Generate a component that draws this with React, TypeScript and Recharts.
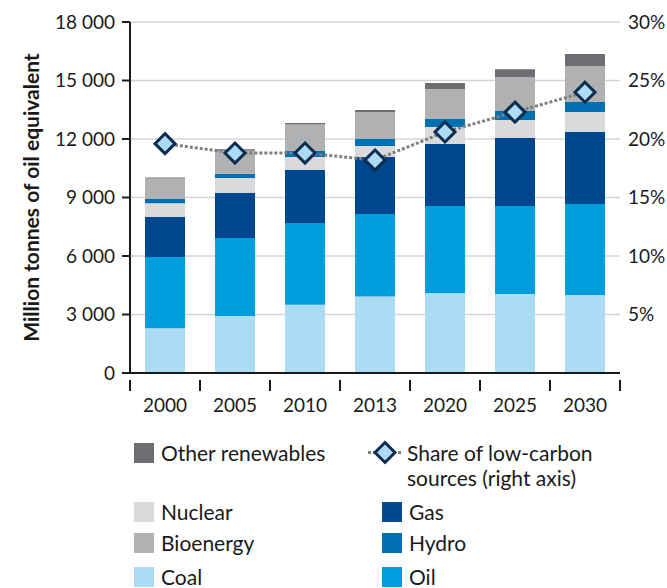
import React from 'react';
import { ComposedChart, Bar, Line, XAxis, YAxis, CartesianGrid } from 'recharts';

const years = ['2000', '2005', '2010', '2013', '2020', '2025', '2030'];
const coal = [2300, 2920, 3500, 3920, 4100, 4050, 4000];
const oil = [3650, 4000, 4190, 4240, 4460, 4510, 4670];
const gas = [2050, 2310, 2720, 2920, 3180, 3490, 3690];
const nuclear = [700, 770, 670, 560, 870, 920, 1030];
const hydro = [220, 220, 310, 360, 410, 460, 510];
const bioenergy = [1060, 1180, 1350, 1390, 1540, 1740, 1850];
const otherRenewables = [40, 70, 85, 100, 310, 410, 610];
const lowCarbonShare = [19.6, 18.8, 18.8, 18.2, 20.6, 22.3, 24.0];

const leftTicks = [0, 3000, 6000, 9000, 12000, 15000, 18000];
const rightTicks = [5, 10, 15, 20, 25, 30];

const series = [
  { key: 'coal', name: 'Coal', color: '#abdcf3' },
  { key: 'oil', name: 'Oil', color: '#009ddc' },
  { key: 'gas', name: 'Gas', color: '#00478d' },
  { key: 'nuclear', name: 'Nuclear', color: '#d9dadc' },
  { key: 'hydro', name: 'Hydro', color: '#0070b3' },
  { key: 'bioenergy', name: 'Bioenergy', color: '#b0b1b3' },
  { key: 'other', name: 'Other renewables', color: '#6d6e71' },
];

const data = years.map((year, i) => ({
  year,
  coal: coal[i],
  oil: oil[i],
  gas: gas[i],
  nuclear: nuclear[i],
  hydro: hydro[i],
  bioenergy: bioenergy[i],
  other: otherRenewables[i],
  share: lowCarbonShare[i],
}));

const FONT = 'Lato, "Open Sans", sans-serif';
const DIAMOND_FILL = '#abdcf3';
const DIAMOND_STROKE = '#0d2c50';

const fmtThousands = (v: number) => String(v).replace(/\B(?=(\d{3})+(?!\d))/g, ' ');

const Diamond = ({ cx, cy }: any) => {
  if (cx == null || cy == null) return null;
  const r = 10;
  return (
    <polygon
      points={`${cx},${cy - r} ${cx + r},${cy} ${cx},${cy + r} ${cx - r},${cy}`}
      fill={DIAMOND_FILL}
      stroke={DIAMOND_STROKE}
      strokeWidth={3}
    />
  );
};

const YearTick = ({ x, y, payload, index, visibleTicksCount }: any) => {
  const half = payload?.offset || 35;
  const last = index === visibleTicksCount - 1;
  return (
    <g>
      <line x1={x - half} x2={x - half} y1={y - 1} y2={y + 10} stroke="#1a1a1a" strokeWidth={2} />
      {last && <line x1={x + half} x2={x + half} y1={y - 1} y2={y + 10} stroke="#1a1a1a" strokeWidth={2} />}
      <text x={x} y={y + 31} textAnchor="middle" fontSize={19} fontFamily={FONT} fill="#1a1a1a">
        {payload.value}
      </text>
    </g>
  );
};

const YLabel = ({ viewBox }: any) => {
  const cy = viewBox.y + viewBox.height / 2;
  return (
    <text
      x={30}
      y={cy}
      transform={`rotate(-90, 30, ${cy})`}
      textAnchor="middle"
      dominantBaseline="central"
      fontSize={21}
      fontWeight="bold"
      fontFamily={FONT}
      fill="#1a1a1a"
    >
      Million tonnes of oil equivalent
    </text>
  );
};

const Swatch = ({ color }: { color: string }) => (
  <span style={{ display: 'inline-block', width: 20, height: 20, background: color, marginRight: 7, flexShrink: 0 }} />
);

const legendText: React.CSSProperties = { fontFamily: FONT, fontSize: 21, color: '#1a1a1a', lineHeight: '25px' };

const colorOf = (key: string) => series.find(s => s.key === key)!.color;
const nameOf = (key: string) => series.find(s => s.key === key)!.name;

const legendLeft = [
  { key: 'other', top: 440 },
  { key: 'nuclear', top: 499 },
  { key: 'bioenergy', top: 530 },
  { key: 'coal', top: 564 },
];
const legendRight = [
  { key: 'gas', top: 499 },
  { key: 'hydro', top: 530 },
  { key: 'oil', top: 564 },
];

export default function App() {
  return (
    <div style={{ position: 'absolute', left: 0, top: 0, width: 667, height: 588, overflow: 'hidden', background: '#fff' }}>
      <ComposedChart width={667} height={420} data={data} margin={{ top: 22, right: 0, bottom: 7, left: 30 }}>
        <CartesianGrid vertical={false} stroke="#d4d4d4" strokeWidth={1.5} yAxisId="left" />
        <XAxis
          dataKey="year"
          height={40}
          tickLine={false}
          axisLine={{ stroke: '#1a1a1a', strokeWidth: 2 }}
          tick={<YearTick />}
          interval={0}
        />
        <YAxis
          yAxisId="left"
          width={100}
          domain={[0, 18000]}
          ticks={leftTicks}
          tickFormatter={fmtThousands}
          axisLine={{ stroke: '#1a1a1a', strokeWidth: 2 }}
          tickLine={{ stroke: '#1a1a1a', strokeWidth: 2 }}
          tickSize={8}
          tickMargin={7}
          tick={{ fontSize: 19, fontFamily: FONT, fill: '#1a1a1a' }}
          label={<YLabel />}
        />
        <YAxis
          yAxisId="right"
          orientation="right"
          width={47}
          domain={[0, 30]}
          ticks={rightTicks}
          tickFormatter={(v: number) => `${v}%`}
          axisLine={false}
          tickLine={false}
          tickSize={0}
          tickMargin={8}
          tick={{ fontSize: 19, fontFamily: FONT, fill: '#1a1a1a' }}
        />
        {series.map(s => (
          <Bar key={s.key} yAxisId="left" dataKey={s.key} name={s.name} stackId="energy" fill={s.color} barSize={40} isAnimationActive={false} />
        ))}
        <Line
          yAxisId="right"
          dataKey="share"
          stroke="#7f7f7f"
          strokeWidth={3}
          strokeDasharray="3 2"
          dot={<Diamond />}
          activeDot={false}
          isAnimationActive={false}
        />
      </ComposedChart>

      {legendLeft.map(item => (
        <div key={item.key} style={{ position: 'absolute', left: 134, top: item.top, display: 'flex', alignItems: 'center' }}>
          <Swatch color={colorOf(item.key)} />
          <span style={legendText}>{nameOf(item.key)}</span>
        </div>
      ))}
      {legendRight.map(item => (
        <div key={item.key} style={{ position: 'absolute', left: 382, top: item.top, display: 'flex', alignItems: 'center' }}>
          <Swatch color={colorOf(item.key)} />
          <span style={legendText}>{nameOf(item.key)}</span>
        </div>
      ))}
      <div style={{ position: 'absolute', left: 366, top: 440, display: 'flex', alignItems: 'flex-start' }}>
        <svg width={38} height={25} style={{ flexShrink: 0 }}>
          <line x1={2} x2={36} y1={12.5} y2={12.5} stroke="#7f7f7f" strokeWidth={3} strokeDasharray="3 2" />
          <Diamond cx={19} cy={12.5} />
        </svg>
        <span style={{ ...legendText, marginLeft: 3 }}>
          Share of low-carbon
          <br />
          sources (right axis)
        </span>
      </div>
    </div>
  );
}
